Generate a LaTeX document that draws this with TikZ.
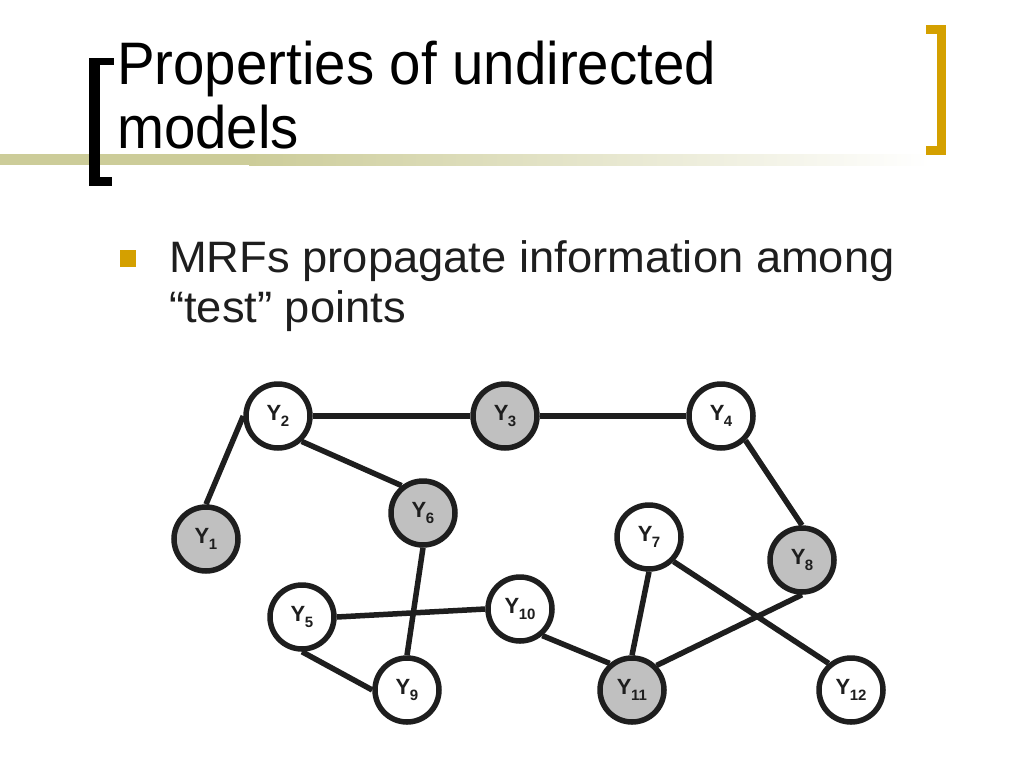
\documentclass[tikz,border=0pt]{standalone}
\usepackage{fontspec}
\setmainfont{Liberation Sans}
\usepackage{graphicx}
\definecolor{band}{RGB}{204,204,153}
\definecolor{gold}{RGB}{212,160,0}
\definecolor{ink}{RGB}{30,30,30}
\definecolor{shade}{RGB}{192,192,192}
\tikzset{
  var/.style={circle, draw=ink, line width=5.5pt, minimum size=64pt, inner sep=0pt, fill=white,
    font=\fontsize{22}{22}\selectfont\bfseries, text=ink},
  obs/.style={var, fill=shade},
  edge/.style={draw=ink, line width=5.5pt},
  title/.style={anchor=base west, inner sep=0pt, font=\fontsize{60}{60}\selectfont, text=black},
  body/.style={anchor=base west, inner sep=0pt, font=\fontsize{44}{44}\selectfont, text=ink}
}
\newcommand{\yv}[1]{Y\kern-0.5pt\raisebox{-6.5pt}{\fontsize{15}{15}\selectfont #1}}
\begin{document}
\begin{tikzpicture}[x=1pt,y=-1pt]
\useasboundingbox (0,0) rectangle (1024,768);
\fill[white] (0,0) rectangle (1024,768);
% header band
\fill[band] (0,154) rectangle (250,165);
\shade[left color=band, right color=white] (249,154) rectangle (930,165);
% brackets
\fill[black] (89,58) rectangle (100,186);
\fill[black] (89,58) rectangle (114,65);
\fill[black] (89,177) rectangle (112,186);
\fill[gold] (937,25) rectangle (946,155);
\fill[gold] (926,25) rectangle (946,34);
\fill[gold] (926,146) rectangle (946,155);
% title
\node[title] (t1) at (117,84) {\scalebox{0.94}[1]{Properties of undirected}};
\node[title] (t2) at (117,148) {\scalebox{0.94}[1]{models}};
% bullet
\fill[gold] (120,250) rectangle (136,267);
\node[body] (b1) at (169,272) {\scalebox{1.03}[1]{MRFs propagate information among}};
\node[body] (b2) at (169,322) {\scalebox{1.03}[1]{“test” points}};
% nodes
\node[var] (Y2) at (278,416) {\yv{2}};
\node[obs] (Y3) at (505,416) {\yv{3}};
\node[var] (Y4) at (721,416) {\yv{4}};
\node[obs] (Y1) at (206,539) {\yv{1}};
\node[obs] (Y6) at (423,513) {\yv{6}};
\node[var] (Y7) at (649,537) {\yv{7}};
\node[obs] (Y8) at (802,560) {\yv{8}};
\node[var] (Y5) at (302,617) {\yv{5}};
\node[var] (Y10) at (520,609) {\yv{10}};
\node[var] (Y9) at (407,690) {\yv{9}};
\node[obs] (Y11) at (632,690) {\yv{11}};
\node[var] (Y12) at (851,690) {\yv{12}};
% edges
\draw[edge] (Y2.east) -- (Y3.west);
\draw[edge] (Y3.east) -- (Y4.west);
\draw[edge] (Y1.north) -- (Y2.west);
\draw[edge] (Y2.-47) -- (Y6.128);
\draw[edge] (Y6.south) -- (Y9.north);
\draw[edge] (Y5.east) -- (Y10.west);
\draw[edge] (Y5.south) -- (Y9.west);
\draw[edge] (Y10.-50) -- (Y11.130);
\draw[edge] (Y7.south) -- (Y11.north);
\draw[edge] (Y8.south) -- (Y11.45);
\draw[edge] (Y7.-45) -- (Y12.130);
\draw[edge] (Y4.-45) -- (Y8.north);
\end{tikzpicture}
\end{document}
